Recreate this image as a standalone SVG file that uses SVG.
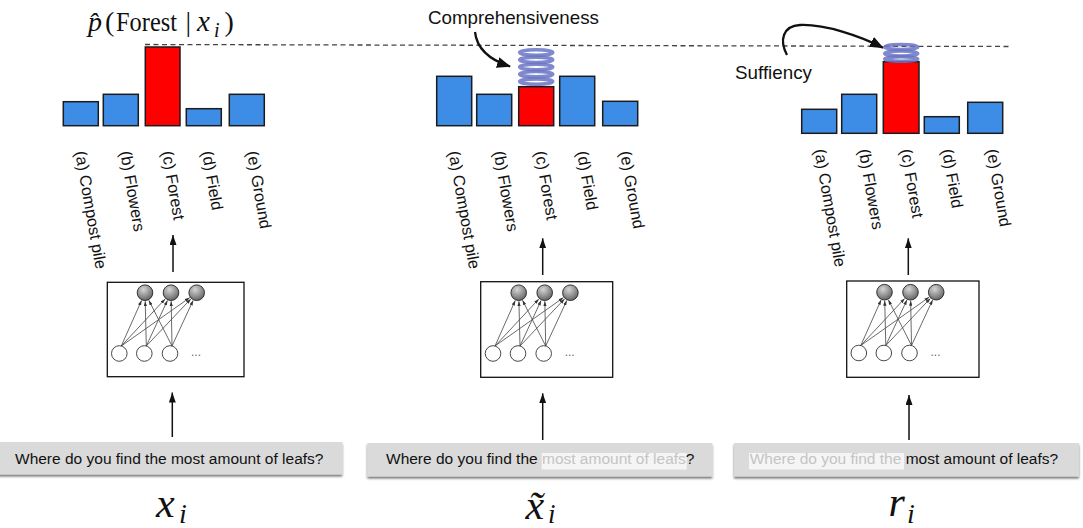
<svg xmlns="http://www.w3.org/2000/svg" width="1083" height="528" viewBox="0 0 1083 528">
<style>
.bar{fill:#3d8de6;stroke:#1c1c1c;stroke-width:1.5}
.red{fill:#ff0000;stroke:#1c1c1c;stroke-width:1.5}
.lbl{font-family:"Liberation Sans",Arial,sans-serif;font-size:16.3px;fill:#111}
.call{font-family:"Liberation Sans",Arial,sans-serif;font-size:18.5px;fill:#111}
.q{font-family:"Liberation Sans",Arial,sans-serif;font-size:15.5px;fill:#111}
.qg{fill:#c4c4c4}
.m{font-family:"Liberation Serif","Times New Roman",serif;fill:#111}
.it{font-style:italic}
.box{fill:#fff;stroke:#111;stroke-width:1.3}
.qbox{fill:#dadada}
.hl{fill:#f5f5f5}
.up{stroke:#111;stroke-width:1.5;fill:none;marker-end:url(#ah)}
.nl{stroke:#444;stroke-width:0.8;fill:none;marker-end:url(#sh)}
.spring{fill:none;stroke:#6a74c4;stroke-width:3.6;opacity:0.85}
.dash{stroke:#444;stroke-width:1.3;stroke-dasharray:5,3.5}
.curve{stroke:#111;stroke-width:2.3;fill:none;marker-end:url(#big)}
</style>
<defs>
<marker id="ah" markerUnits="userSpaceOnUse" viewBox="0 0 10 7" refX="10" refY="3.5" markerWidth="10" markerHeight="7" orient="auto"><path d="M0,0 L10,3.5 L0,7 z" fill="#111"/></marker>
<marker id="sh" markerUnits="userSpaceOnUse" viewBox="0 0 6 4" refX="6" refY="2" markerWidth="5" markerHeight="3.5" orient="auto"><path d="M0,0 L6,2 L0,4 z" fill="#333"/></marker>
<marker id="big" markerUnits="userSpaceOnUse" viewBox="0 0 14 11" refX="13" refY="5.5" markerWidth="14" markerHeight="11" orient="auto"><path d="M0,0 L14,5.5 L0,11 z" fill="#111"/></marker>
<radialGradient id="gball" cx="0.4" cy="0.3" r="0.75">
<stop offset="0" stop-color="#d6d6d6"/>
<stop offset="1" stop-color="#5e5e5e"/>
</radialGradient>
<filter id="shd" x="-5%" y="-30%" width="110%" height="170%">
<feDropShadow dx="0" dy="2" stdDeviation="1.2" flood-color="#000" flood-opacity="0.55"/>
</filter>
<filter id="soft" x="-20%" y="-20%" width="140%" height="140%">
<feGaussianBlur stdDeviation="0.5"/>
</filter>
<g id="netInner">
<line class="nl" x1="121.3" y1="346" x2="141.55" y2="300.47"/>
<line class="nl" x1="121.3" y1="346" x2="165.2" y2="298.92"/>
<line class="nl" x1="121.3" y1="346" x2="189.76" y2="297.61"/>
<line class="nl" x1="146.3" y1="346" x2="145.21" y2="301.2"/>
<line class="nl" x1="146.3" y1="346" x2="167.43" y2="300.41"/>
<line class="nl" x1="146.3" y1="346" x2="190.86" y2="298.88"/>
<line class="nl" x1="172" y1="346" x2="148.84" y2="300.28"/>
<line class="nl" x1="172" y1="346" x2="171.16" y2="301.2"/>
<line class="nl" x1="172" y1="346" x2="193.13" y2="300.41"/>
<circle cx="145" cy="292.7" r="7.8" fill="url(#gball)" stroke="#222" stroke-width="0.9"/>
<circle cx="171" cy="292.7" r="7.8" fill="url(#gball)" stroke="#222" stroke-width="0.9"/>
<circle cx="196.7" cy="292.7" r="7.8" fill="url(#gball)" stroke="#222" stroke-width="0.9"/>
<circle cx="119.3" cy="353.5" r="7.8" fill="#fff" stroke="#333" stroke-width="0.9"/>
<circle cx="144.3" cy="353.5" r="7.8" fill="#fff" stroke="#333" stroke-width="0.9"/>
<circle cx="170" cy="353.5" r="7.8" fill="#fff" stroke="#333" stroke-width="0.9"/>
<text x="191" y="356" style="font-family:'Liberation Sans',Arial,sans-serif;font-size:12px;fill:#666">...</text>
</g>
</defs>
<rect width="1083" height="528" fill="#fff"/>

<g id="formula" class="m">
<text x="88" y="31" font-size="28" class="it">p̂</text>
<text x="105" y="31" font-size="28">(</text>
<text x="116" y="31" font-size="28" textLength="61" lengthAdjust="spacingAndGlyphs">Forest</text>
<text x="185.5" y="31" font-size="28">|</text>
<text x="197" y="31" font-size="29" class="it">x</text>
<text x="214" y="37" font-size="20" class="it">i</text>
<text x="224.5" y="31" font-size="28">)</text>
</g>

<g id="connectors">
<line class="dash" x1="145" y1="44.5" x2="1012" y2="46.5"/>
<path class="curve" d="M475,32 C477,50 490,60 510,66.5"/>
<path class="curve" d="M787,55 C779,40 783,26 800,25 C825,24 860,36 883,47.7"/>
<line class="up" x1="173" y1="272" x2="173" y2="235"/>
<line class="up" x1="542.7" y1="275" x2="542.7" y2="238.3"/>
<line class="up" x1="908.3" y1="275" x2="908.3" y2="238.3"/>
<line class="up" x1="172.3" y1="437" x2="172.3" y2="392.5"/>
<line class="up" x1="542.7" y1="440" x2="542.7" y2="393.3"/>
<line class="up" x1="909" y1="440" x2="909" y2="395"/>
</g>

<g id="callout-comprehensiveness">
<text class="call" x="428" y="23.5" textLength="171" lengthAdjust="spacingAndGlyphs">Comprehensiveness</text>
</g>
<g id="callout-sufficiency">
<text class="call" x="735" y="79" textLength="77" lengthAdjust="spacingAndGlyphs">Suffiency</text>
</g>

<g id="bars-left">
<rect class="bar" x="63.3" y="101.7" width="35" height="24"/>
<rect class="bar" x="103.3" y="94.3" width="35" height="31.4"/>
<rect class="red" x="145.3" y="47" width="34.7" height="78.7"/>
<rect class="bar" x="186.3" y="108.7" width="35" height="17"/>
<rect class="bar" x="229.3" y="94.3" width="35" height="31.4"/>
</g>
<g id="bars-middle">
<rect class="bar" x="436.7" y="76.3" width="35" height="49.4"/>
<rect class="bar" x="476.7" y="94.3" width="35" height="31.4"/>
<rect class="red" x="518.7" y="86.7" width="35" height="39"/>
<rect class="bar" x="559.7" y="76.3" width="35" height="49.4"/>
<rect class="bar" x="602.7" y="101.3" width="35" height="24.4"/>
<g id="spring-middle" filter="url(#soft)">
<ellipse class="spring" cx="536.2" cy="52.5" rx="16.5" ry="2.7"/>
<ellipse class="spring" cx="536.2" cy="59.8" rx="16.5" ry="2.7"/>
<ellipse class="spring" cx="536.2" cy="67" rx="16.5" ry="2.7"/>
<ellipse class="spring" cx="536.2" cy="74.2" rx="16.5" ry="2.7"/>
<ellipse class="spring" cx="536.2" cy="81.6" rx="16.5" ry="2.7"/>
</g>
</g>
<g id="bars-right">
<rect class="bar" x="801.7" y="109.3" width="35" height="24"/>
<rect class="bar" x="841.7" y="94.3" width="35" height="39"/>
<rect class="red" x="883.3" y="61.7" width="35.7" height="71.6"/>
<rect class="bar" x="924.3" y="116.7" width="35" height="16.6"/>
<rect class="bar" x="967.7" y="102.3" width="35" height="31"/>
<g id="spring-right" filter="url(#soft)">
<ellipse class="spring" cx="901.2" cy="47" rx="16.5" ry="2.5"/>
<ellipse class="spring" cx="901.2" cy="53.5" rx="16.5" ry="2.5"/>
<ellipse class="spring" cx="901.2" cy="59" rx="16.5" ry="2.3"/>
</g>
</g>

<g id="labels-left" class="lbl">
<text transform="translate(75,152) rotate(80)">(a) Compost pile</text>
<text transform="translate(120,152) rotate(80)">(b) Flowers</text>
<text transform="translate(161.7,152) rotate(80)">(c) Forest</text>
<text transform="translate(201.7,152) rotate(80)">(d) Field</text>
<text transform="translate(246.7,152) rotate(80)">(e) Ground</text>
</g>
<g id="labels-middle" class="lbl">
<text transform="translate(448.5,152) rotate(80)">(a) Compost pile</text>
<text transform="translate(493.5,152) rotate(80)">(b) Flowers</text>
<text transform="translate(534.8,152) rotate(80)">(c) Forest</text>
<text transform="translate(576.8,152) rotate(80)">(d) Field</text>
<text transform="translate(619.8,152) rotate(80)">(e) Ground</text>
</g>
<g id="labels-right" class="lbl">
<text transform="translate(814.3,150) rotate(80)">(a) Compost pile</text>
<text transform="translate(858.5,150) rotate(80)">(b) Flowers</text>
<text transform="translate(900.5,150) rotate(80)">(c) Forest</text>
<text transform="translate(941.8,150) rotate(80)">(d) Field</text>
<text transform="translate(986.5,150) rotate(80)">(e) Ground</text>
</g>

<g id="net-left">
<rect class="box" x="107.3" y="282.3" width="136.7" height="94.4"/>
<use href="#netInner"/>
</g>
<g id="net-middle">
<rect class="box" x="480.7" y="281.7" width="132" height="95.6"/>
<use href="#netInner" transform="translate(373.7,0)"/>
</g>
<g id="net-right">
<rect class="box" x="846.7" y="281" width="132.3" height="96.3"/>
<use href="#netInner" transform="translate(739.5,-0.5)"/>
</g>

<g id="input-left">
<rect class="qbox" x="-2" y="442" width="344.3" height="32.5" filter="url(#shd)"/>
<text class="q" x="15" y="463.5">Where do you find the most amount of leafs?</text>
</g>
<g id="input-middle">
<rect class="qbox" x="367.3" y="443" width="345" height="33.5" filter="url(#shd)"/>
<rect class="hl" x="541.7" y="453" width="145" height="16.5"/>
<text class="q" x="386" y="464">Where do you find the <tspan class="qg">most amount of leafs</tspan>?</text>
</g>
<g id="input-right">
<rect class="qbox" x="734" y="443" width="345" height="33.5" filter="url(#shd)"/>
<rect class="hl" x="749" y="453" width="155" height="16.5"/>
<text class="q" x="749.7" y="464"><tspan class="qg">Where do you find the</tspan> most amount of leafs?</text>
</g>

<g id="var-x" class="m">
<text x="156" y="517" font-size="42" class="it">x</text>
<text x="179" y="523" font-size="28" class="it">i</text>
</g>
<g id="var-xtilde" class="m">
<text x="525.5" y="519" font-size="42" class="it">x̃</text>
<text x="548" y="522.5" font-size="27" class="it">i</text>
</g>
<g id="var-r" class="m">
<text x="888.5" y="516" font-size="42" class="it">r</text>
<text x="907" y="523" font-size="28" class="it">i</text>
</g>
</svg>
